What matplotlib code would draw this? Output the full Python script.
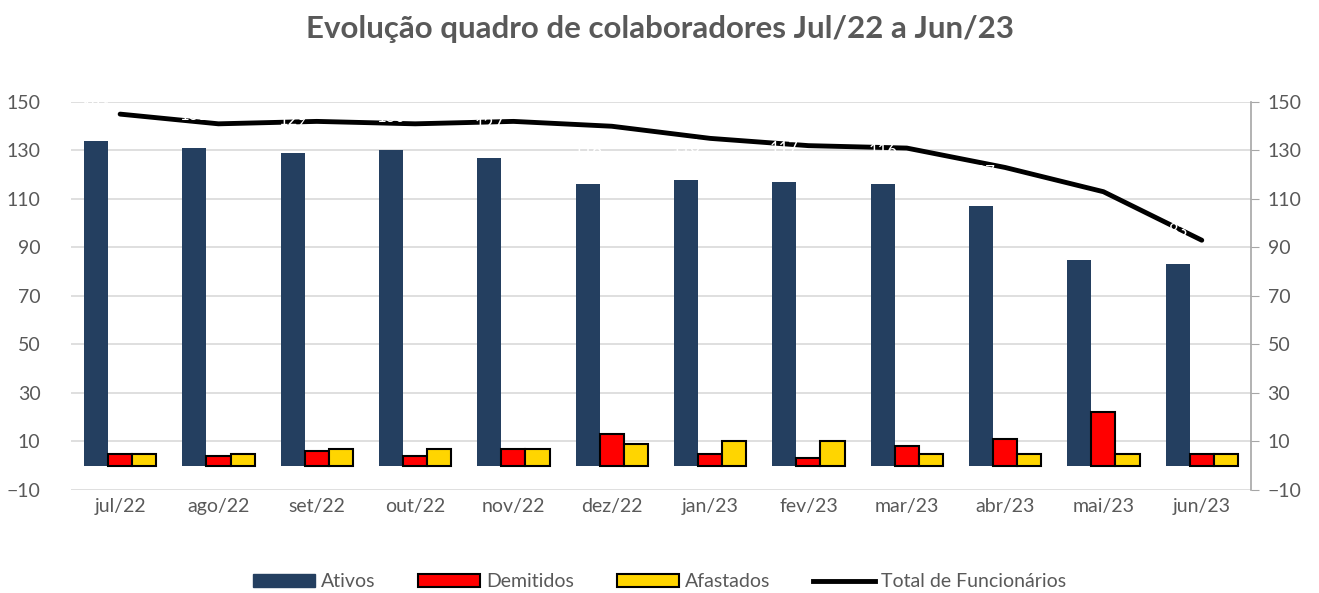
import matplotlib
matplotlib.use("Agg")
from matplotlib import pyplot as plt
from matplotlib.patches import Patch
from matplotlib.lines import Line2D
import numpy as np

# data
meses = ["jul/22", "ago/22", "set/22", "out/22", "nov/22", "dez/22",
         "jan/23", "fev/23", "mar/23", "abr/23", "mai/23", "jun/23"]
ativos = [134, 131, 129, 130, 127, 116, 118, 117, 116, 107, 85, 83]
demitidos = [5, 4, 6, 4, 7, 13, 5, 3, 8, 11, 22, 5]
afastados = [5, 5, 7, 7, 7, 9, 10, 10, 5, 5, 5, 5]
total = [145, 141, 142, 141, 142, 140, 135, 132, 131, 123, 113, 93]

plt.rcParams["font.family"] = ["Lato", "DejaVu Sans"]
cinza = "#595959"
azul = "#243F60"
vermelho = "#FF0000"
amarelo = "#FFD500"

fig = plt.figure(figsize=(13.19, 5.93), dpi=100)
ax = fig.add_axes([0.0538, 0.1737, 0.8946, 0.6543])
ax2 = ax.twinx()

x = np.arange(len(meses))
w = 0.245

ax.bar(x - w, ativos, w, color=azul, zorder=3)
ax.bar(x, demitidos, w, color=vermelho, edgecolor="black", linewidth=1.5, zorder=3)
ax.bar(x + w, afastados, w, color=amarelo, edgecolor="black", linewidth=1.5, zorder=3)

ax2.plot(x, total, color="black", linewidth=3.5, solid_capstyle="round", zorder=4)

# white data labels of the Ativos bars (show only where they cross the line)
for xi, v in zip(x, ativos):
    ax2.annotate(str(v), (xi - w, v), xytext=(0, 18), textcoords="offset points",
                 ha="center", va="bottom", color="white", fontsize=12, zorder=5)

for a in (ax, ax2):
    a.set_ylim(-10, 150)
    a.set_yticks(range(-10, 151, 20))
    a.set_xlim(-0.5, len(meses) - 0.5)
    for s in a.spines.values():
        s.set_visible(False)

ax.set_xticks(x)
ax.set_xticklabels(meses)
ax.tick_params(axis="x", length=0, pad=6, labelsize=14, labelcolor=cinza)
ax.tick_params(axis="y", length=0, pad=22, labelsize=14, labelcolor=cinza)
ax.yaxis.grid(True, color="#D9D9D9", linewidth=1.2, zorder=0)
ax.set_axisbelow(True)

ax2.spines["right"].set_visible(True)
ax2.spines["right"].set_color("#A6A6A6")
ax2.spines["right"].set_linewidth(1.2)
ax2.tick_params(axis="y", direction="out", length=6, color="#A6A6A6",
                pad=6, labelsize=14, labelcolor=cinza)

fig.suptitle("Evolução quadro de colaboradores Jul/22 a Jun/23", x=0.5, y=0.975,
             fontsize=22.5, fontweight="bold", color=cinza)

handles = [
    Patch(facecolor=azul, edgecolor=azul),
    Patch(facecolor=vermelho, edgecolor="black", linewidth=1.5),
    Patch(facecolor=amarelo, edgecolor="black", linewidth=1.5),
    Line2D([0], [0], color="black", linewidth=3.5),
]
fig.legend(handles, ["Ativos", "Demitidos", "Afastados", "Total de Funcionários"],
           loc="lower center", bbox_to_anchor=(0.5, -0.025), ncol=4, frameon=False,
           fontsize=14, labelcolor=cinza, handlelength=3.2, handletextpad=0.3,
           columnspacing=2.2)

plt.savefig("out.png", dpi=100)
plt.close()
